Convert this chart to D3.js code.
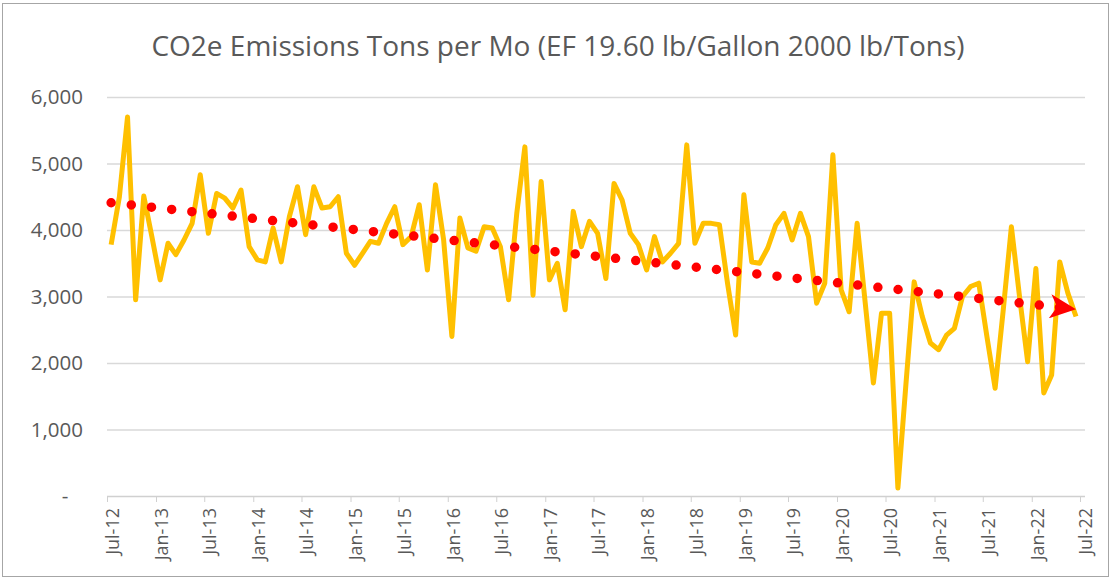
<!DOCTYPE html>
<html>
<head>
<meta charset="utf-8">
<script src="https://cdn.jsdelivr.net/npm/d3@7"></script>
<style>
  body { margin: 0; background: #fff; }
  #wrapper svg { display: block; font-family: 'Open Sans', sans-serif; }
</style>
</head>
<body>
<div id="wrapper"></div>
<script>
// Data
const chartTitle = 'CO2e Emissions Tons per Mo (EF 19.60 lb/Gallon 2000 lb/Tons)';
const firstMonth = '2012-07';
const emissions = [
  3780, 4500, 5700, 2950, 4510, 3900, 3250, 3800, 3630, 3850, 4100, 4830,
  3950, 4550, 4480, 4330, 4600, 3750, 3550, 3520, 4030, 3520, 4200, 4650,
  3930, 4650, 4330, 4350, 4500, 3650, 3470, 3650, 3830, 3800, 4100, 4350,
  3780, 3900, 4380, 3400, 4680, 3850, 2400, 4180, 3730, 3680, 4050, 4030,
  3750, 2950, 4250, 5250, 3020, 4730, 3250, 3500, 2800, 4280, 3750, 4130,
  3950, 3270, 4700, 4450, 3950, 3780, 3400, 3900, 3520, 3650, 3800, 5280,
  3800, 4100, 4100, 4080, 3200, 2420, 4530, 3520, 3500, 3730, 4080, 4250,
  3850, 4250, 3900, 2900, 3200, 5130, 3100, 2770, 4100, 2900, 1700, 2750,
  2750, 120, 1700, 3220, 2700, 2300, 2200, 2420, 2520, 3000, 3150, 3200,
  2400, 1620, 2800, 4050, 3000, 2020, 3420, 1550, 1820, 3520, 3050, 2700,
];
const trendEnds = [4410, 2810];
const yTicks = [0, 1000, 2000, 3000, 4000, 5000, 6000];
const xTickLabels = [
  'Jul-12', 'Jan-13', 'Jul-13', 'Jan-14', 'Jul-14', 'Jan-15', 'Jul-15',
  'Jan-16', 'Jul-16', 'Jan-17', 'Jul-17', 'Jan-18', 'Jul-18', 'Jan-19',
  'Jul-19', 'Jan-20', 'Jul-20', 'Jan-21', 'Jul-21', 'Jan-22', 'Jul-22',
];

function drawChart() {
  const parseMonth = d3.timeParse('%Y-%m');
  const parseLabel = d3.timeParse('%b-%y');
  const start = parseMonth(firstMonth);
  const months = emissions.map((d, i) => d3.timeMonth.offset(start, i));
  const tickDates = xTickLabels.map(parseLabel);

  let dimensions = {
    width: 1112,
    height: 579,
    margin: { top: 97, right: 32, bottom: 83, left: 107 },
  };
  dimensions.boundedWidth =
    dimensions.width - dimensions.margin.left - dimensions.margin.right;
  dimensions.boundedHeight =
    dimensions.height - dimensions.margin.top - dimensions.margin.bottom;

  // Scales
  const xScale = d3
    .scaleTime()
    .domain([tickDates[0], tickDates[tickDates.length - 1]])
    .range([0, dimensions.boundedWidth]);

  const yScale = d3
    .scaleLinear()
    .domain([0, 6000])
    .range([dimensions.boundedHeight, 0]);

  // points sit in the middle of their month
  const xMid = (d) => (xScale(d) + xScale(d3.timeMonth.offset(d, 1))) / 2;

  // Canvas
  const wrapper = d3
    .select('#wrapper')
    .append('svg')
    .attr('width', dimensions.width)
    .attr('height', dimensions.height);

  wrapper
    .append('rect')
    .attr('x', 2.5)
    .attr('y', 3.5)
    .attr('width', 1106)
    .attr('height', 573)
    .attr('fill', '#fff')
    .attr('stroke', '#a6a6a6');

  wrapper
    .append('text')
    .attr('x', 558)
    .attr('y', 56)
    .attr('text-anchor', 'middle')
    .attr('fill', '#595959')
    .style('font-size', '28px')
    .text(chartTitle);

  const bounds = wrapper
    .append('g')
    .attr(
      'transform',
      `translate(${dimensions.margin.left}, ${dimensions.margin.top})`
    );

  // Gridlines and y labels
  const yAxis = d3
    .axisLeft(yScale)
    .tickValues(yTicks)
    .tickSize(-(dimensions.boundedWidth + 5))
    .tickPadding(24)
    .tickFormat((d) => (d === 0 ? '-' : d3.format(',')(d)));

  const yAxisGroup = bounds.append('g').attr('id', 'y-axis').call(yAxis);
  yAxisGroup.select('.domain').remove();
  yAxisGroup
    .selectAll('.tick line')
    .attr('stroke', '#d9d9d9')
    .attr('stroke-width', 1.3);
  yAxisGroup
    .selectAll('.tick text')
    .attr('fill', '#595959')
    .style('font-size', '20.5px')
    .style('font-family', "'Open Sans', sans-serif");
  yAxisGroup
    .selectAll('.tick')
    .filter((d) => d === 0)
    .select('text')
    .attr('x', -42)
    .attr('text-anchor', 'middle');
  yAxisGroup
    .selectAll('.tick')
    .filter((d) => d === 0)
    .select('line')
    .attr('stroke', '#d0d0d0');

  // x axis
  const xAxis = d3
    .axisBottom(xScale)
    .tickValues(tickDates)
    .tickSize(6)
    .tickFormat((d, i) => xTickLabels[i]);

  const xAxisGroup = bounds
    .append('g')
    .attr('id', 'x-axis')
    .attr('transform', `translate(0, ${dimensions.boundedHeight})`)
    .call(xAxis);
  xAxisGroup.select('.domain').remove();
  xAxisGroup.selectAll('.tick line').attr('stroke', '#d0d0d0');
  xAxisGroup
    .selectAll('.tick text')
    .attr('fill', '#595959')
    .style('font-size', '18px')
    .style('font-family', "'Open Sans', sans-serif")
    .attr('text-anchor', 'end')
    .attr('transform', 'rotate(-90)')
    .attr('x', -12)
    .attr('y', 5)
    .attr('dy', '0.35em');

  // Emissions line
  const lineGenerator = d3
    .line()
    .x((d, i) => xMid(months[i]))
    .y((d) => yScale(d));

  bounds
    .append('path')
    .datum(emissions)
    .attr('d', lineGenerator)
    .attr('fill', 'none')
    .attr('stroke', '#FFC000')
    .attr('stroke-width', 5)
    .attr('stroke-linejoin', 'round');

  // Trendline with arrow head
  bounds
    .append('defs')
    .append('marker')
    .attr('id', 'arrow')
    .attr('viewBox', '0 0 26 24')
    .attr('refX', 26)
    .attr('refY', 12)
    .attr('markerWidth', 26)
    .attr('markerHeight', 24)
    .attr('markerUnits', 'userSpaceOnUse')
    .attr('orient', 'auto')
    .append('path')
    .attr('d', 'M0,0 L26,12 L0,24 L7,12 Z')
    .attr('fill', '#FF0000');

  const trendPoints = [
    [xMid(months[0]), yScale(trendEnds[0])],
    [xMid(months[months.length - 1]), yScale(trendEnds[1])],
  ];

  bounds
    .append('path')
    .attr('d', d3.line()(trendPoints))
    .attr('fill', 'none')
    .attr('stroke', '#FF0000')
    .attr('stroke-width', 9.5)
    .attr('stroke-linecap', 'round')
    .attr('stroke-dasharray', '0 20.3')
    .attr('marker-end', 'url(#arrow)');
}

drawChart();
</script>
</body>
</html>
